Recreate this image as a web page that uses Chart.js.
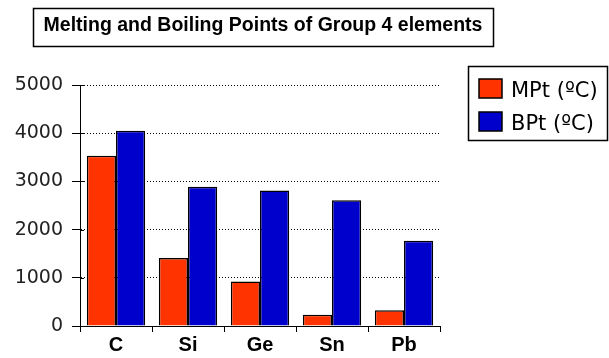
<!DOCTYPE html>
<html>
<head>
<meta charset="utf-8">
<script src="https://cdn.jsdelivr.net/npm/chart.js@4/dist/chart.umd.min.js"></script>
<style>
  html, body { margin: 0; padding: 0; background: #ffffff; }
  canvas { display: block; }
</style>
</head>
<body>
<canvas id="chart" width="609" height="358"></canvas>
<script>
// Group 4 elements and their melting / boiling points in °C
const chartTitle = 'Melting and Boiling Points of Group 4 elements';
const elements = ['C', 'Si', 'Ge', 'Sn', 'Pb'];
const meltingPoints = [3530, 1410, 925, 232, 327];
const boilingPoints = [4050, 2890, 2810, 2610, 1770];
const seriesNames = ['MPt (ºC)', 'BPt (ºC)'];
const seriesColours = ['#ff3300', '#0000cc'];
const yAxisMax = 5000;
const yAxisStep = 1000;

const TICK_FONT = '"DejaVu Sans", Verdana, sans-serif';
const BOLD_FONT = '"Liberation Sans", Arial, Helvetica, sans-serif';

// Boxed title, boxed legend and the short inner tick marks on the value axis
const decorations = {
  id: 'decorations',
  afterDraw(chart) {
    const ctx = chart.ctx;
    ctx.save();

    // title frame and text
    ctx.strokeStyle = '#000';
    ctx.lineWidth = 1.5;
    ctx.strokeRect(33.5, 8.5, 460, 38);
    ctx.fillStyle = '#000';
    ctx.font = 'bold 19.5px ' + BOLD_FONT;
    ctx.textAlign = 'center';
    ctx.textBaseline = 'alphabetic';
    ctx.fillText(chartTitle, 263, 31);

    // legend frame
    ctx.lineWidth = 1.5;
    ctx.strokeRect(468.5, 66.5, 139, 74);
    ctx.font = '21px ' + TICK_FONT;
    ctx.textAlign = 'left';
    chart.data.datasets.forEach((ds, i) => {
      const top = 79 + i * 33;
      ctx.fillStyle = ds.backgroundColor;
      ctx.fillRect(479, top, 23, 19);
      ctx.lineWidth = 1.5;
      ctx.strokeStyle = '#000';
      ctx.strokeRect(479, top, 23, 19);
      ctx.fillStyle = '#000';
      ctx.fillText(ds.label, 511, top + 18);
    });

    // short ticks inside the plot on the value axis
    const y = chart.scales.y;
    const left = chart.chartArea.left;
    ctx.lineWidth = 1;
    ctx.strokeStyle = '#000';
    y.ticks.forEach(t => {
      const py = Math.round(y.getPixelForValue(t.value)) + 0.5;
      ctx.beginPath();
      ctx.moveTo(left, py);
      ctx.lineTo(left + 4, py);
      ctx.stroke();
    });
    ctx.restore();
  }
};

new Chart(document.getElementById('chart'), {
  type: 'bar',
  data: {
    labels: elements,
    datasets: [
      {
        label: seriesNames[0],
        data: meltingPoints,
        backgroundColor: seriesColours[0],
        borderColor: '#000',
        borderWidth: 1.5
      },
      {
        label: seriesNames[1],
        data: boilingPoints,
        backgroundColor: seriesColours[1],
        borderColor: '#000',
        borderWidth: 1.5
      }
    ]
  },
  options: {
    responsive: false,
    animation: false,
    devicePixelRatio: 1,
    layout: { padding: { left: 0, top: 85, right: 169, bottom: 0 } },
    datasets: {
      bar: { categoryPercentage: 0.81, barPercentage: 1.0 }
    },
    plugins: {
      legend: { display: false },
      title: { display: false },
      tooltip: { enabled: false }
    },
    scales: {
      x: {
        afterFit(scale) { scale.height = 32; },
        grid: {
          drawOnChartArea: false,
          offset: true,
          color: '#000',
          tickLength: 6,
          tickWidth: 1
        },
        border: { color: '#000', width: 1 },
        ticks: {
          color: '#000',
          padding: 1,
          font: { family: BOLD_FONT, size: 20, weight: 'bold' }
        }
      },
      y: {
        min: 0,
        max: yAxisMax,
        afterFit(scale) { scale.width = 80; },
        ticks: {
          stepSize: yAxisStep,
          color: '#222',
          padding: 9,
          font: { family: TICK_FONT, size: 19 },
          callback: value => String(value)
        },
        grid: {
          color: '#000',
          lineWidth: 1,
          tickLength: 8,
          tickColor: '#000',
          tickBorderDash: []
        },
        border: { color: '#000', width: 1, dash: [1, 2] }
      }
    }
  },
  plugins: [decorations]
});
</script>
</body>
</html>
